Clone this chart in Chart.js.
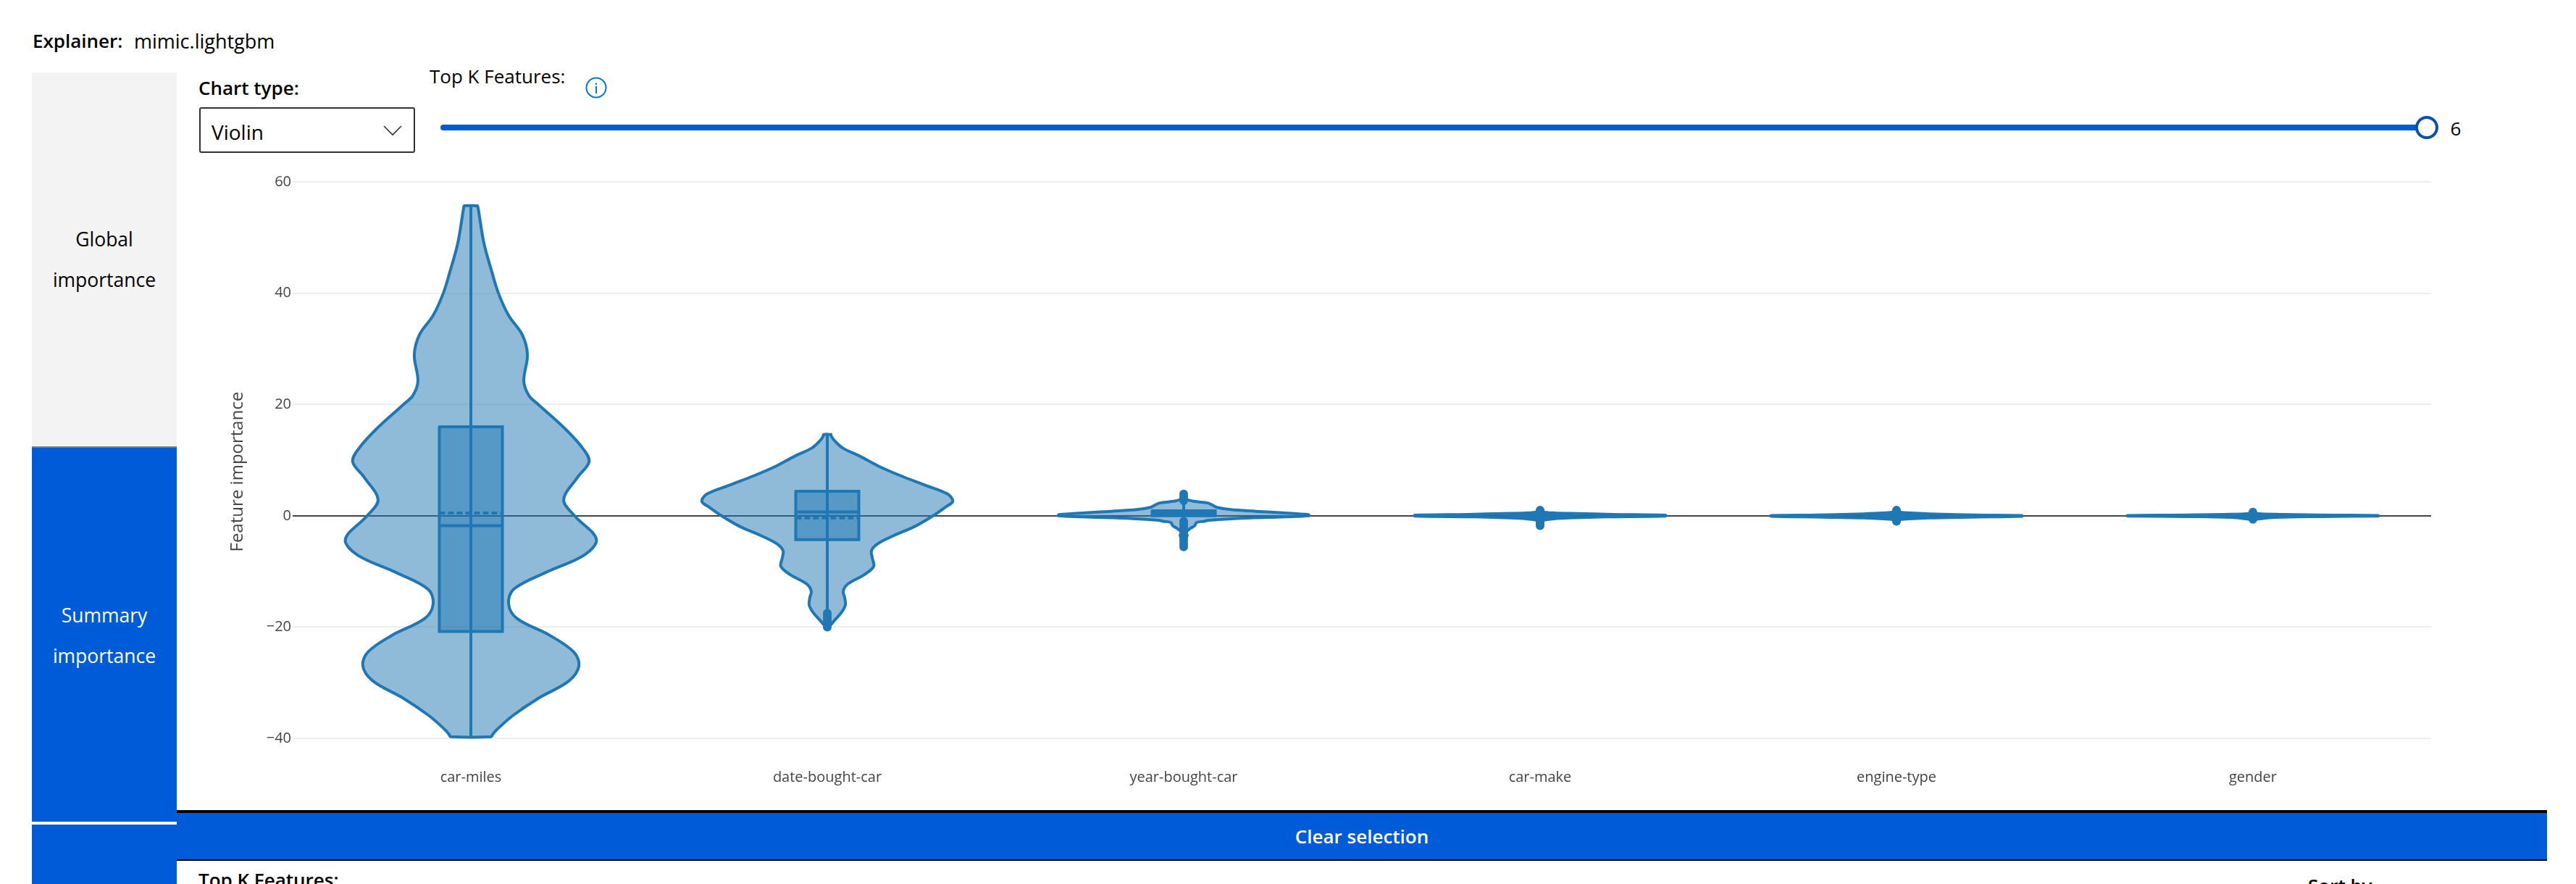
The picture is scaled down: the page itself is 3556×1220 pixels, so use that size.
<!DOCTYPE html>
<html><head><meta charset="utf-8">
<script src="https://cdn.jsdelivr.net/npm/chart.js@4"></script>
<style>
html,body{margin:0;padding:0;width:3556px;height:1220px;overflow:hidden;background:#fff;font-family:"Open Sans",sans-serif;color:#000}
.a{position:absolute;white-space:nowrap;line-height:1}
canvas{position:absolute;left:0;top:0}
.t{font-size:26px}
.n{font-size:26.5px}
.b{font-weight:600}
.c{transform:translate(-50%,-50%)}
.m{transform:translateY(-50%)}
</style></head><body>
<div class="a" style="left:44px;top:100px;width:200px;height:516px;background:#f3f3f3"></div>
<div class="a" style="left:44px;top:616px;width:200px;height:2px;background:#7d7d7d"></div>
<div class="a" style="left:44px;top:618px;width:200px;height:516px;background:#005bd8"></div>
<div class="a" style="left:44px;top:1138px;width:200px;height:82px;background:#005bd8"></div>
<div class="a n c" style="left:144px;top:330px">Global</div>
<div class="a n c" style="left:144px;top:386px">importance</div>
<div class="a n c" style="left:144px;top:849px;color:#fff">Summary</div>
<div class="a n c" style="left:144px;top:905px;color:#fff">importance</div>
<div class="a t b m" style="left:45px;top:56px">Explainer:</div>
<div class="a m" style="left:185px;top:56px;font-size:27px">mimic.lightgbm</div>
<div class="a t b m" style="left:274px;top:121px">Chart type:</div>
<div class="a t m" style="left:593px;top:105px">Top K Features:</div>
<div class="a" style="left:275px;top:148px;width:294px;height:59px;border:2px solid #333;border-radius:3px"></div>
<div class="a m" style="left:292px;top:182px;font-size:28px">Violin</div>
<svg class="a" style="left:525px;top:170px" width="34" height="20"><path d="M5 4 L17 16 L29 4" fill="none" stroke="#333" stroke-width="1.6"/></svg>
<svg class="a" style="left:808px;top:105px" width="30" height="32"><circle cx="15" cy="16" r="13.5" fill="none" stroke="#0078d4" stroke-width="2"/><rect x="14" y="14" width="2" height="10" fill="#0078d4"/><rect x="14" y="9.5" width="2" height="2.4" fill="#0078d4"/></svg>
<div class="a" style="left:608px;top:172px;width:2730px;height:8px;border-radius:4px;background:#005bd8"></div>
<div class="a" style="left:3334px;top:160px;width:24px;height:24px;border:4px solid #0a50b0;border-radius:50%;background:#fff"></div>
<div class="a t c" style="left:3390px;top:177px">6</div>
<div class="a" style="left:244px;top:1118px;width:3272px;height:4px;background:#000"></div>
<div class="a" style="left:244px;top:1122px;width:3272px;height:64px;background:#005bd8"></div>
<div class="a" style="left:244px;top:1186px;width:3272px;height:2px;background:#000"></div>
<div class="a t c b" style="left:1880px;top:1154px;color:#fff">Clear selection</div>
<div class="a t b" style="left:274px;top:1201px">Top K Features:</div>
<div class="a t b" style="left:3186px;top:1209px">Sort by</div>
<canvas id="chart" width="3556" height="1220" style="width:3556px;height:1220px"></canvas>
<script>
const categories = ["car-miles","date-bought-car","year-bought-car","car-make","engine-type","gender"];
const yTicks = [60,40,20,0,-20,-40];

// Violin profiles: importance level and density read at that level (top to bottom)
const carMilesLevels = [55.7,55.3,49,43.8,40,36,32.5,28.9,24.2,21.6,20,15.5,12,9.7,6.9,2.9,0,-4.2,-7,-10.2,-13.2,-15.8,-18.4,-21.5,-24.5,-27,-29.7,-32.8,-35.9,-38.4,-39.3,-39.7];
const carMilesDensity = [9,10,18,29,38,52,71,78,73,80,93,131,155,163,147,128,143,173,157,103,59,52,63,109,142,149,135,93,58,36,30,28];
const dateBoughtLevels = [14.6,14.2,13.5,12.2,10.7,8.9,7.2,5.5,3.9,2.6,1.56,0,-1.9,-3.6,-5,-6.25,-7.55,-9.1,-10.6,-12.3,-13.6,-14.7,-16,-17.3,-18.8,-20.1];
const dateBoughtDensity = [5,6,10,21,45,71,101,135,166,173,163,146,121,91,70,61,62,64,51,28,22,24,25,20,10,1];
const yearBoughtLevels = [4,3,2.6,2.3,1.9,1.5,1.1,0.8,0.5,0.2,0,-0.2,-0.5,-0.8,-1,-1.2,-1.8,-2.2,-3,-3.5,-4,-5,-5.6];
const yearBoughtDensity = [1,4,14,33,40,46,65,100,140,172,173,140,70,35,28,18,15,10,3,5,3,3,1];
const carMakeLevels = [1,0.7,0.5,0.4,0.25,0.1,-0.05,-0.2,-0.4,-0.6,-1,-1.8];
const carMakeDensity = [1,3,20,50,100,173,173,90,40,15,2,1];
const engineTypeLevels = [1,0.7,0.45,0.3,0.15,0.05,-0.1,-0.25,-0.4,-0.7,-1];
const engineTypeDensity = [1,3,25,55,110,173,173,100,45,3,1];
const genderLevels = [0.65,0.4,0.25,0.12,0.03,-0.05,-0.15,-0.3,-0.65];
const genderDensity = [1,4,40,110,173,173,90,30,1];

// Box statistics per category
const q3Values     = [16,4.4,0.9,0.3,0.25,0.1];
const medianValues = [-1.8,0.7,0.45,0,0,0];
const meanValues   = [0.5,-0.4,0.3,0,0,0];
const q1Values     = [-20.8,-4.3,0,-0.3,-0.25,-0.1];
const whiskerTop   = [55.7,14.6,2.5,0.7,0.6,0.4];
const whiskerLow   = [-39.7,-17,-0.8,-0.7,-0.6,-0.4];

// Outlier values per category
const carMilesOutliers = [];
const dateBoughtOutliers = [-17.5,-18,-18.5,-19,-19.5,-20];
const yearBoughtOutliers = [3.9,3.5,3.1,2.7,-1.0,-1.4,-1.8,-2.3,-2.8,-3.3,-3.9,-4.4,-5,-5.6];
const carMakeOutliers = [1,0.85,-0.8,-1,-1.3,-1.6,-1.8];
const engineTypeOutliers = [1,0.8,-0.8,-1];
const genderOutliers = [0.65,0.45,-0.45,-0.65];

const levels = [carMilesLevels,dateBoughtLevels,yearBoughtLevels,carMakeLevels,engineTypeLevels,genderLevels];
const density = [carMilesDensity,dateBoughtDensity,yearBoughtDensity,carMakeDensity,engineTypeDensity,genderDensity];
const outliers = [carMilesOutliers,dateBoughtOutliers,yearBoughtOutliers,carMakeOutliers,engineTypeOutliers,genderOutliers];

const COLOR = "#1f77b4", FILL = "rgba(31,119,180,0.5)";
const DENSITY_TO_X = 0.352/173, BOX_HALF = 0.0885, LW = 4;

const base = {showLine:true,pointRadius:0,pointHoverRadius:0,borderColor:COLOR,borderWidth:LW,clip:false,borderJoinStyle:"round",borderCapStyle:"round",tension:0};
const datasets = [];
categories.forEach((name,i)=>{
  const right = levels[i].map((y,k)=>({x:i+density[i][k]*DENSITY_TO_X,y}));
  const left  = levels[i].map((y,k)=>({x:i-density[i][k]*DENSITY_TO_X,y})).reverse();
  datasets.push({...base,label:name+" violin",data:[...right,...left,right[0]],tension:0.35,fill:"shape",backgroundColor:FILL});
  datasets.push({...base,label:name+" whisker",data:[{x:i,y:whiskerTop[i]},{x:i,y:whiskerLow[i]}]});
  const a=i-BOX_HALF,b=i+BOX_HALF;
  datasets.push({...base,label:name+" box",data:[{x:a,y:q3Values[i]},{x:b,y:q3Values[i]},{x:b,y:q1Values[i]},{x:a,y:q1Values[i]},{x:a,y:q3Values[i]}],fill:"shape",backgroundColor:FILL,borderJoinStyle:"miter"});
  datasets.push({...base,label:name+" median",data:[{x:a,y:medianValues[i]},{x:b,y:medianValues[i]}],borderCapStyle:"butt"});
  datasets.push({...base,label:name+" mean",data:[{x:a,y:meanValues[i]},{x:b,y:meanValues[i]}],borderDash:[8,4],borderCapStyle:"butt"});
  if(outliers[i].length) datasets.push({label:name+" outliers",showLine:false,pointRadius:6,pointHoverRadius:6,pointBorderWidth:0,pointBackgroundColor:COLOR,clip:false,data:outliers[i].map(y=>({x:i,y}))});
});

const titleShift = {id:"titleShift",afterLayout(chart){
  const s=chart.scales.y;
  if(s._shifted) return; s._shifted=true;
  const orig=s.drawTitle.bind(s);
  s.drawTitle=function(){const b=s.bottom;s.bottom=b+32;orig();s.bottom=b;};
}};

new Chart(document.getElementById("chart"),{
  type:"scatter",
  data:{datasets},
  plugins:[titleShift],
  options:{
    responsive:false,animation:false,devicePixelRatio:1,
    layout:{padding:{left:300,top:251,right:200,bottom:100}},
    plugins:{legend:{display:false},tooltip:{enabled:false}},
    scales:{
      x:{type:"linear",min:-0.5,max:5.5,
        afterBuildTicks(s){s.ticks=categories.map((c,i)=>({value:i}));},
        afterFit(s){s.height=101;},
        grid:{display:false},border:{display:false},
        ticks:{autoSkip:false,maxRotation:0,padding:34,color:"#444",font:{family:"Open Sans",size:20},callback:v=>categories[v]}},
      y:{type:"linear",min:-40,max:60,
        afterBuildTicks(s){s.ticks=yTicks.map(value=>({value}));},
        afterFit(s){s.width=104;},
        grid:{color:c=>c.tick&&c.tick.value===0?"#444":"#eee",lineWidth:2,drawTicks:false},border:{display:false},
        title:{display:true,text:"Feature importance",color:"#444",font:{family:"Open Sans",size:24},padding:{top:14,bottom:0}},
        ticks:{padding:2,color:"#444",font:{family:"Open Sans",size:20},callback:v=>v<0?"\u2212"+(-v):String(v)}}
    }
  }
});
</script>
</body></html>
